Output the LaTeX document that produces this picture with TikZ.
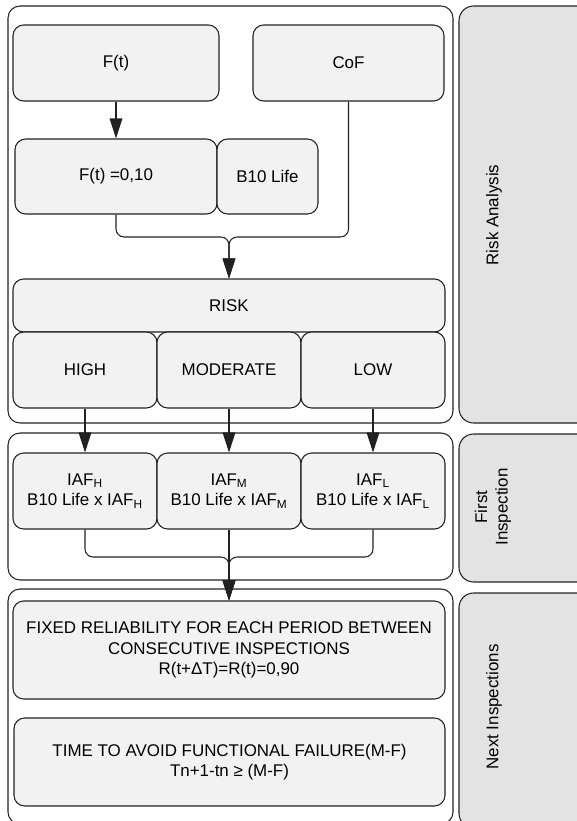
\documentclass[tikz,border=0pt]{standalone}
\usepackage{fontspec}
\setmainfont{Liberation Sans}
\usetikzlibrary{arrows.meta}
\definecolor{boxgray}{HTML}{F2F2F2}
\definecolor{lanegray}{HTML}{E3E3E3}
\definecolor{linegray}{HTML}{222222}

\begin{document}
\begin{tikzpicture}[x=0.75pt,y=-0.75pt,
        line width=0.8pt,draw=linegray,
        font=\fontsize{12.7}{15.5}\selectfont,
        box/.style={draw,rounded corners=8pt,fill=boxgray,align=center,inner sep=0pt},
        sz/.style 2 args={minimum width=#1*0.75pt,minimum height=#2*0.75pt},
        panel/.style={draw,rounded corners=9pt},
        lane/.style={draw,rounded corners=11pt,fill=lanegray},
        arr/.style={-{Triangle[width=9.5pt,length=15pt]}},
        link/.style={rounded corners=6pt}]
        \useasboundingbox (0,0) rectangle (577,821);
        \clip (0,0) rectangle (577,821);

        % Panels:
        % one per stage, with its grey name lane on the right
        \draw[panel] (8,6) rectangle (453,423);
        \draw[panel] (8,433) rectangle (453,580);
        \draw[panel] (8,589) rectangle (453,824);
        \draw[lane] (459,6) rectangle (600,423);
        \draw[lane] (459,434) rectangle (600,582);
        \draw[lane] (459,593) rectangle (600,828);
        \node[rotate=90] (riskname) at (494,215) {Risk Analysis};
        \node[rotate=90,align=center] (firstname) at (493,507) {First\\Inspection};
        \node[rotate=90] (nextname) at (494,707) {Next Inspections};

        % Risk analysis boxes
        \node[box,sz={206}{76}] (ft) at (116,63) {F(t)};
        \node[box,sz={191}{76}] (cof) at (348.5,63) {CoF};
        \node[box,sz={202}{75}] (ftten) at (116,176.5) {F(t) =0,10};
        \node[box,sz={101}{75}] (btenlife) at (267.5,176.5) {B10 Life};
        \node[box,sz={432}{53}] (risk) at (229,305.5) {RISK};
        \foreach \name/\x/\level in {high/85/HIGH, moderate/229/MODERATE, low/373/LOW}
            \node[box,sz={144}{76}] (\name) at (\x,370) {\level};

        % First inspection boxes
        \foreach \name/\x/\sub in {iafh/85/H, iafm/229/M, iafl/373/L}
            \node[box,sz={144}{76}] (\name) at (\x,491)
                {IAF\textsubscript{\sub}\\B10 Life x IAF\textsubscript{\sub}};

        % Next inspections boxes
        \node[box,sz={432}{98}] (fixed) at (229,650)
            {FIXED RELIABILITY FOR EACH PERIOD BETWEEN\\CONSECUTIVE INSPECTIONS\\R(t+ΔT)=R(t)=0,90};
        \node[box,sz={431}{88}] (time) at (229.5,762)
            {TIME TO AVOID FUNCTIONAL FAILURE(M-F)\\Tn+1-tn ≥ (M-F)};

        % Connectors
        \coordinate (joinrisk) at (229,237);
        \coordinate (joinnext) at (229,557);
        \draw[arr] (ft) -- (ftten);
        \draw[arr,link] (ftten.south) |- (joinrisk) -- (risk.north);
        \draw[arr,link] (cof.south) |- (joinrisk) -- (risk.north);
        \draw[arr] (high) -- (iafh);
        \draw[arr] (moderate) -- (iafm);
        \draw[arr] (low) -- (iafl);
        \draw[arr,link] (iafh.south) |- (joinnext) -- (fixed.north);
        \draw[arr,link] (iafl.south) |- (joinnext) -- (fixed.north);
        \draw[arr] (iafm) -- (fixed);
\end{tikzpicture}
\end{document}
